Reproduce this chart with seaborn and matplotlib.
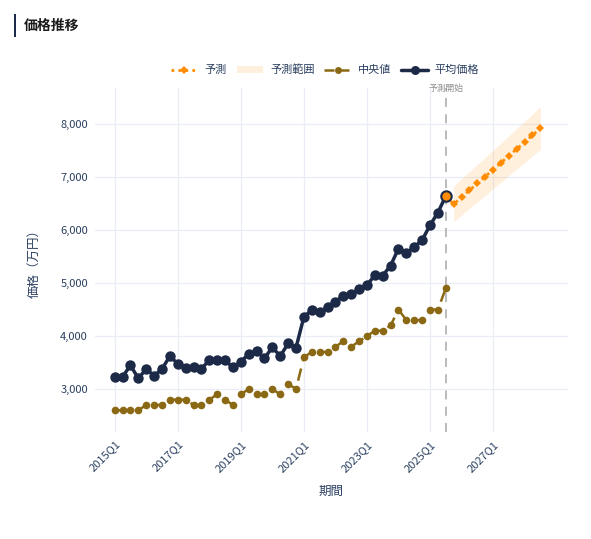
import numpy as np
import pandas as pd
import seaborn as sns
import matplotlib
matplotlib.use('Agg')
from matplotlib import pyplot as plt
from matplotlib.lines import Line2D
from matplotlib.patches import Patch, Rectangle
import matplotlib.transforms as mtransforms

sns.set_theme(style="white")
plt.rcParams['font.family'] = ['Noto Sans CJK JP', 'DejaVu Sans']

# data (quarters 2015Q1 .. 2025Q3)
mean_price = [3230, 3230, 3450, 3200,
              3380, 3250, 3380, 3620,
              3480, 3400, 3420, 3380,
              3550, 3550, 3540, 3410,
              3510, 3670, 3720, 3580,
              3790, 3620, 3860, 3780,
              4360, 4490, 4460, 4540,
              4650, 4760, 4790, 4890,
              4960, 5150, 5140, 5330,
              5650, 5570, 5680, 5810,
              6090, 6330, 6640]
median_price = [2600, 2600, 2600, 2600,
                2700, 2700, 2700, 2800,
                2800, 2800, 2700, 2700,
                2800, 2900, 2800, 2700,
                2900, 3000, 2900, 2900,
                3000, 2900, 3100, 3000,
                3600, 3700, 3700, 3700,
                3800, 3900, 3800, 3900,
                4000, 4100, 4100, 4200,
                4500, 4300, 4300, 4300,
                4500, 4500, 4900]
# forecast 2025Q3 .. 2028Q3
forecast = [6640, 6490, 6620, 6750, 6880, 7010, 7140, 7270, 7400, 7530, 7660, 7790, 7920]
# band 2025Q4 .. 2028Q3
band_upper = [6830, 6970, 7100, 7240, 7370, 7510, 7640, 7780, 7920, 8050, 8190, 8330]
band_lower = [6160, 6280, 6410, 6530, 6650, 6780, 6900, 7030, 7150, 7270, 7400, 7520]
tick_labels = ["2015Q1", "2017Q1", "2019Q1", "2021Q1", "2023Q1", "2025Q1", "2027Q1"]
forecast_start = "2025Q3"

quarters = [f"{y}Q{q}" for y in range(2015, 2029) for q in range(1, 5)]
qidx = {q: i for i, q in enumerate(quarters)}

hist = pd.DataFrame({"t": range(len(mean_price)), "mean": mean_price, "median": median_price})
start = qidx[forecast_start]
fc = pd.DataFrame({"t": range(start, start + len(forecast)), "pred": forecast})
band = pd.DataFrame({"t": range(start + 1, start + 1 + len(band_upper)),
                     "lo": band_lower, "hi": band_upper})

navy = "#1c2a48"
brown = "#8b6914"
orange = "#ff8c00"
grid_c = "#e9edf5"
tick_c = "#2a3f5f"

fig = plt.figure(figsize=(5.91, 5.39), dpi=100)
ax = fig.add_axes([0.1607, 0.1985, 0.8003, 0.6382])

ax.fill_between(band.t, band.lo, band.hi, color=orange, alpha=0.13, lw=0)
sns.lineplot(data=hist, x="t", y="median", ax=ax, color=brown, lw=1.8, marker="o", markersize=5.5,
             markeredgewidth=0, linestyle=(0, (5, 3)))
sns.lineplot(data=hist, x="t", y="mean", ax=ax, color=navy, lw=2.5, marker="o", markersize=7.5,
             markeredgewidth=0)
sns.lineplot(data=fc, x="t", y="pred", ax=ax, color=orange, lw=2, marker="D", markersize=4.5,
             markeredgewidth=0, linestyle=(0, (1, 1.5)))
ax.plot(start, forecast[0], marker="o", markersize=7.5, markerfacecolor=orange,
        markeredgecolor=navy, markeredgewidth=1.5, zorder=5)

ax.axvline(start, color="#b5b5b5", lw=1.3, linestyle=(0, (5, 4)), zorder=1)
trans = mtransforms.blended_transform_factory(ax.transData, ax.transAxes)
ax.text(start, 1.0, "予測開始", transform=trans, ha="center", va="center", fontsize=6.3, color="#8f8f8f")

ax.set_xlim(-2.5, 57.5)
ax.set_ylim(2190, 8680)
ax.set_xticks([qidx[l] for l in tick_labels])
ax.set_xticklabels(tick_labels, rotation=45, ha="right", rotation_mode="anchor")
ax.set_yticks(range(3000, 8001, 1000))
ax.set_yticklabels([f"{v:,}" for v in range(3000, 8001, 1000)])
ax.tick_params(axis="both", length=0, labelsize=8, colors=tick_c, pad=5)
ax.grid(True, color=grid_c, lw=0.9)
ax.set_axisbelow(True)
for s in ax.spines.values():
    s.set_visible(False)
ax.set_xlabel("期間", fontsize=9, color=tick_c, labelpad=8)
ax.set_ylabel("価格（万円）", fontsize=9, color=tick_c, labelpad=14)

handles = [
    Line2D([], [], color=orange, lw=2, linestyle=(0, (1, 1.5)), marker="D", markersize=4, markeredgewidth=0),
    Patch(facecolor=orange, alpha=0.13, lw=0),
    Line2D([], [], color=brown, lw=1.8, linestyle=(0, (4, 2)), marker="o", markersize=5, markeredgewidth=0),
    Line2D([], [], color=navy, lw=2.5, marker="o", markersize=6.5, markeredgewidth=0),
]
fig.legend(handles, ["予測", "予測範囲", "中央値", "平均価格"], loc="center", ncol=4,
           bbox_to_anchor=(0.55, 0.870), frameon=False, fontsize=8, labelcolor=tick_c,
           handlelength=2.4, columnspacing=0.9, handletextpad=0.6)

# title with accent bar
fig.patches.append(Rectangle((14 / 591, 1 - 37 / 539), 2.2 / 591, 23 / 539, transform=fig.transFigure,
                             facecolor=navy, edgecolor="none"))
fig.text(24 / 591, 1 - 25.5 / 539, "価格推移", fontsize=10, fontweight="bold", color="#1a1a1a", va="center")

plt.savefig("out.png", dpi=100)
